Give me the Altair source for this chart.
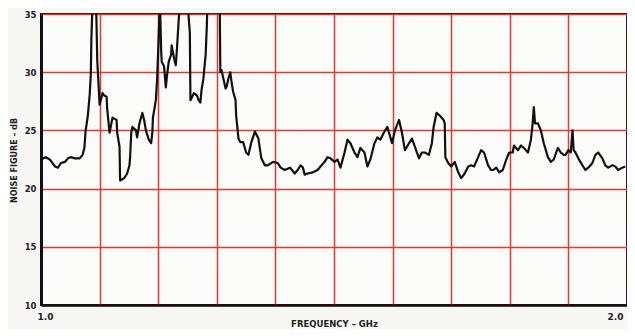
import altair as alt
import pandas as pd

# Frequency (GHz) and noise figure (dB)
freq = [1.000, 1.008, 1.015, 1.024, 1.029, 1.034, 1.041, 1.046, 1.051, 1.058,
        1.066, 1.071, 1.074, 1.076, 1.080, 1.083, 1.085, 1.086, 1.088, 1.094,
        1.096, 1.100, 1.105, 1.108, 1.112, 1.113, 1.117, 1.122, 1.129, 1.130,
        1.134, 1.135, 1.142, 1.147, 1.151, 1.152, 1.154, 1.156, 1.162, 1.164,
        1.168, 1.173, 1.176, 1.179, 1.184, 1.188, 1.190, 1.191, 1.196, 1.198,
        1.200, 1.201, 1.203, 1.205, 1.206, 1.210, 1.213, 1.215, 1.218, 1.222,
        1.223, 1.227, 1.230, 1.232, 1.235, 1.237, 1.250, 1.254, 1.255, 1.261,
        1.266, 1.269, 1.272, 1.274, 1.277, 1.281, 1.283, 1.284, 1.305, 1.306,
        1.308, 1.311, 1.315, 1.317, 1.320, 1.323, 1.325, 1.328, 1.332, 1.333,
        1.337, 1.340, 1.345, 1.350, 1.354, 1.359, 1.365, 1.371, 1.376, 1.382,
        1.387, 1.396, 1.404, 1.409, 1.416, 1.425, 1.433, 1.438, 1.443, 1.447,
        1.450, 1.455, 1.464, 1.472, 1.477, 1.484, 1.489, 1.494, 1.501, 1.506,
        1.511, 1.518, 1.523, 1.528, 1.535, 1.540, 1.545, 1.552, 1.557, 1.562,
        1.569, 1.574, 1.579, 1.585, 1.591, 1.594, 1.599, 1.604, 1.611, 1.616,
        1.621, 1.628, 1.633, 1.638, 1.645, 1.650, 1.655, 1.662, 1.667, 1.670,
        1.675, 1.680, 1.687, 1.689, 1.690, 1.695, 1.700, 1.706, 1.712, 1.717,
        1.723, 1.729, 1.734, 1.739, 1.746, 1.751, 1.756, 1.763, 1.768, 1.772,
        1.777, 1.782, 1.788, 1.794, 1.799, 1.805, 1.807, 1.814, 1.819, 1.824,
        1.831, 1.836, 1.839, 1.841, 1.843, 1.848, 1.853, 1.858, 1.865, 1.870,
        1.875, 1.882, 1.887, 1.892, 1.895, 1.900, 1.904, 1.907, 1.909, 1.912,
        1.917, 1.924, 1.929, 1.934, 1.941, 1.946, 1.951, 1.958, 1.963, 1.968,
        1.975, 1.980, 1.985, 1.992, 1.997]

noise_db = [22.5, 22.7, 22.5, 21.9, 21.8, 22.2, 22.3, 22.6, 22.7, 22.6,
            22.6, 22.9, 23.5, 24.9, 26.3, 28.0, 29.8, 32.9, 36.0, 36.0,
            31.0, 27.2, 28.2, 28.0, 27.9, 26.8, 24.8, 26.1, 25.9, 24.8,
            23.6, 20.7, 20.9, 21.3, 22.0, 22.7, 24.8, 25.3, 25.0, 24.4,
            25.6, 26.5, 25.9, 25.0, 24.2, 23.9, 24.8, 26.1, 27.6, 29.3,
            31.9, 33.4, 36.0, 31.9, 30.9, 30.5, 28.7, 29.7, 30.9, 31.5,
            32.3, 31.2, 30.6, 32.0, 34.5, 36.0, 36.0, 33.4, 27.6, 28.2,
            28.0, 27.6, 27.4, 28.5, 29.4, 31.5, 34.0, 36.0, 36.0, 30.0,
            30.2, 29.5, 28.6, 28.8, 29.5, 30.0, 29.2, 28.3, 27.6, 26.3,
            24.3, 24.0, 24.0, 23.1, 22.9, 24.0, 24.9, 24.3, 22.6, 22.0,
            22.0, 22.3, 22.2, 21.8, 21.6, 21.8, 21.3, 21.6, 22.0, 21.8,
            21.2, 21.3, 21.4, 21.6, 21.9, 22.3, 22.7, 22.6, 22.3, 22.5,
            21.8, 23.1, 24.2, 23.9, 23.1, 22.7, 23.5, 23.1, 21.9, 22.5,
            23.9, 24.4, 24.2, 24.8, 25.3, 24.8, 23.9, 25.0, 25.9, 24.8,
            23.3, 23.9, 24.3, 23.6, 22.6, 23.1, 23.1, 22.9, 23.9, 25.3,
            26.5, 26.3, 25.9, 25.6, 22.7, 22.2, 21.9, 22.3, 21.4, 20.9,
            21.3, 21.9, 22.0, 21.9, 22.7, 23.3, 23.1, 22.0, 21.6, 21.6,
            21.8, 21.4, 21.6, 22.5, 23.1, 23.1, 23.7, 23.3, 23.7, 23.5,
            23.1, 24.2, 25.6, 27.0, 25.6, 25.6, 25.0, 23.9, 22.7, 22.3,
            22.5, 23.5, 23.1, 22.9, 22.9, 23.3, 23.1, 25.0, 23.3, 23.1,
            22.6, 22.0, 21.6, 21.8, 22.2, 22.9, 23.1, 22.6, 22.0, 21.8,
            22.0, 21.9, 21.6, 21.8, 21.9]

x_ticks = [1.0, 1.1, 1.2, 1.3, 1.4, 1.5, 1.6, 1.7, 1.8, 1.9, 2.0]
y_ticks = [10, 15, 20, 25, 30, 35]

df = pd.DataFrame({"f": freq, "nf": noise_db})

FONT = "DejaVu Sans"
RED = "#e23a32"
INK = "#1e1e1e"

line = alt.Chart(df).mark_line(color="#111111", strokeWidth=2.2, clip=True,
                               strokeJoin="round").encode(
    x=alt.X("f:Q",
            scale=alt.Scale(domain=[1.0, 2.0], nice=False, zero=False),
            axis=alt.Axis(values=x_ticks, title="FREQUENCY – GHz",
                          labelExpr="(abs(datum.value-1)<0.001 || abs(datum.value-2)<0.001) ? format(datum.value, '.1f') : ''",
                          grid=True, gridColor=RED, gridWidth=1.5, gridOpacity=1,
                          domain=True, domainColor="#111111", domainWidth=2.5,
                          ticks=False, labelPadding=7, labelOffset=-4, labelFontSize=9,
                          labelFontWeight="bold", labelFont=FONT, labelColor=INK,
                          labelOverlap=False,
                          titleFont=FONT, titleFontSize=8.5, titleFontWeight="bold",
                          titleColor=INK, titleY=21, titleBaseline="alphabetic")),
    y=alt.Y("nf:Q",
            scale=alt.Scale(domain=[10, 35], nice=False, zero=False),
            axis=alt.Axis(values=y_ticks, title="NOISE FIGURE – dB",
                          grid=True, gridColor=RED, gridWidth=1.5, gridOpacity=1,
                          domain=True, domainColor="#111111", domainWidth=3,
                          ticks=False, labelPadding=5, labelFontSize=8.5,
                          labelFontWeight="bold", labelFont=FONT, labelColor=INK,
                          titleFont=FONT, titleFontSize=8, titleFontWeight="bold",
                          titleColor=INK, titleX=-23, titleY=146)),
)

chart = line.properties(
    width=586, height=291,
    autosize=alt.AutoSizeParams(type="none"),
    padding={"left": 33, "top": 6, "right": 0, "bottom": 24},
    background="#f7f7f4",
).configure_view(
    stroke="#111111", strokeWidth=2, fill="#fbfbf9"
)

chart.save("out.html", embed_options={"renderer": "svg", "actions": False})
